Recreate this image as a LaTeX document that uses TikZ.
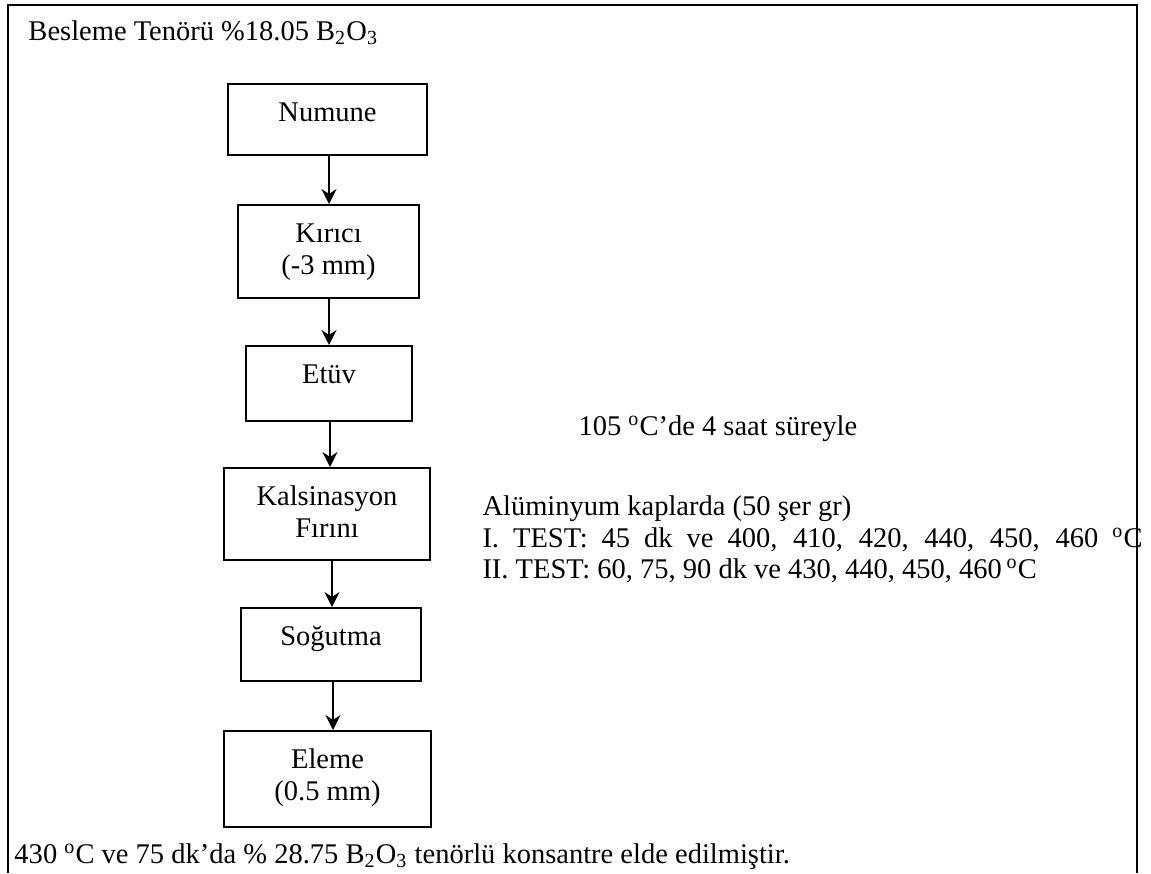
\documentclass[tikz,border=0pt]{standalone}
\usepackage{fontspec}
\setmainfont{Liberation Serif}
\usetikzlibrary{arrows.meta}
\begin{document}
\begin{tikzpicture}[x=0.4pt,y=-0.4pt,
  every node/.style={font=\fontsize{11.4}{12.8}\selectfont, inner sep=0pt},
  txt/.style={anchor=base west},
  stepbox/.style 2 args={draw, line width=0.9pt, align=center, anchor=north,
    minimum width=#1, text height=14.8pt, text depth=#2},
  twoline/.style={text height=27.6pt},
  flow/.style={line width=0.8pt, -{Stealth[length=6pt,width=6pt,inset=2pt]}},
  frame/.style={line width=1pt}]
\useasboundingbox (0,0) rectangle (1151,873);

% open frame around the flow sheet
\coordinate (fbl) at (8,873);
\coordinate (ftl) at (8,5);
\coordinate (ftr) at (1137,5);
\coordinate (fbr) at (1137,873);
\draw[frame] (fbl) -- (ftl) -- (ftr) -- (fbr);

% process steps
\node[stepbox={79.6pt}{13.6pt}] (num) at (327.5,83) {Numune};
\node[stepbox={72.4pt}{9.6pt}, twoline] (kir) at (328.5,204) {Kırıcı\\(-3 mm)};
\node[stepbox={66.4pt}{15.2pt}] (etv) at (329,345) {Etüv};
\node[stepbox={82.4pt}{9.2pt}, twoline] (kal) at (327,467) {Kalsinasyon\\Fırını};
\node[stepbox={72pt}{14.4pt}] (sog) at (331,607) {Soğutma};
\node[stepbox={82.8pt}{10.8pt}, twoline] (ele) at (327.5,730) {Eleme\\(0.5 mm)};

% connectors
\draw[flow] ([xshift=0.6pt]num.south) -- ([xshift=0.6pt]num.south |- kir.north);
\draw[flow] ([xshift=0.2pt]kir.south) -- ([xshift=0.2pt]kir.south |- etv.north);
\draw[flow] ([xshift=0.4pt]etv.south) -- ([xshift=0.4pt]etv.south |- kal.north);
\draw[flow] ([xshift=2pt]kal.south) -- ([xshift=2pt]kal.south |- sog.north);
\draw[flow] ([xshift=0.8pt]sog.south) -- ([xshift=0.8pt]sog.south |- ele.north);

% annotations
\node[txt] (feed) at (28,40) {Besleme Tenörü \%18.05 B\textsubscript{2}O\textsubscript{3}};
\node[txt] (dry) at (578,435) {105 \textsuperscript{o}C’de 4 saat süreyle};
\node[txt] (cal1) at (482,515) {Alüminyum kaplarda (50 şer gr)};
\node[txt] (cal2) at (482,547) {\makebox[264pt][s]{I. TEST: 45 dk ve 400, 410, 420, 440, 450, 460 \textsuperscript{o}C}};
\node[txt] (cal3) at (482,578) {II. TEST: 60, 75, 90 dk ve 430, 440, 450, 460\,\textsuperscript{o}C};
\node[txt] (res) at (14,863) {430 \textsuperscript{o}C ve 75 dk’da \% 28.75 B\textsubscript{2}O\textsubscript{3} tenörlü konsantre elde edilmiştir.};
\end{tikzpicture}
\end{document}
